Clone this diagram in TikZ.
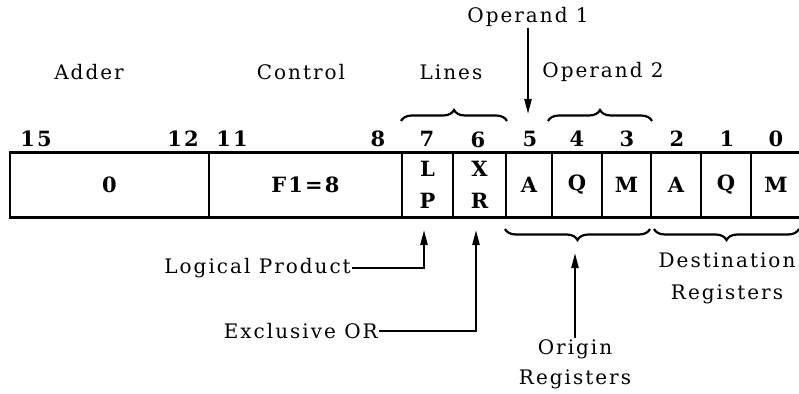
\documentclass[tikz,border=0pt]{standalone}
\usepackage{fontspec}
\setmainfont{DejaVu Serif}[LetterSpace=10]
\usetikzlibrary{decorations.pathreplacing,arrows.meta}
\begin{document}
\begin{tikzpicture}[x=1pt,y=-1pt,
  cell/.style={draw,line width=2.6pt,minimum height=65pt,inner sep=0pt,font=\fontsize{21}{22}\selectfont\bfseries},
  bit/.style={font=\fontsize{21}{22}\selectfont\bfseries,inner sep=0pt},
  lbl/.style={font=\fontsize{20}{24}\selectfont,inner sep=1pt},
  brc/.style={decorate,decoration={brace,amplitude=11pt},line width=2.2pt},
  arr/.style={line width=2.2pt,-{Triangle[length=15pt,width=7pt]}}]
\useasboundingbox (0,0) rectangle (799,393);
\clip (0,0) rectangle (799,393);
% cells
\node[cell,minimum width=199pt] (c15) at (109.5,185) {0};
\node[cell,minimum width=193pt] (c11) at (305.5,185) {F1=8};
\node[cell,minimum width=51pt,align=center] (c7) at (427.5,185) {L\\[10pt]P};
\node[cell,minimum width=53pt,align=center] (c6) at (479.5,185) {X\\[10pt]R};
\node[cell,minimum width=46pt] (c5) at (529,185) {A};
\node[cell,minimum width=50pt] (c4) at (577,185) {Q};
\node[cell,minimum width=49pt] (c3) at (626.5,185) {M};
\node[cell,minimum width=50pt] (c2) at (676,185) {A};
\node[cell,minimum width=50pt] (c1) at (726,185) {Q};
\node[cell,minimum width=50pt] (c0) at (776,185) {M};
% bit numbers
\node[bit] (b15) at (36,139) {15};
\node[bit] (b12) at (183,139) {12};
\node[bit] (b11) at (232,139) {11};
\node[bit] (b8) at (378,139) {8};
\node[bit] (b7) at (427,139) {7};
\node[bit] (b6) at (478,140) {6};
\node[bit] (b5) at (530,139) {5};
\node[bit] (b4) at (577,139) {4};
\node[bit] (b3) at (627,139) {3};
\node[bit] (b2) at (677,139) {2};
\node[bit] (b1) at (727,139) {1};
\node[bit] (b0) at (776,139) {0};
% top labels
\node[lbl] (adder) at (89,72) {Adder};
\node[lbl] (control) at (301,72) {Control};
\node[lbl] (lines) at (451,72) {Lines};
\node[lbl] (op1) at (528,17) {Operand 1};
\node[lbl] (op2) at (603,72) {Operand 2};
% braces
\draw[brc] (401,121) -- (507,121);
\draw[brc] (548,121) -- (652,121);
\draw[brc] (650,229) -- (505,229);
\draw[brc] (799,229) -- (654,229);
% operand 1 arrow
\coordinate (op1tip) at (528,114);
\draw[arr] (op1.south) -- (op1tip);
% lower labels
\node[lbl,anchor=east] (lp) at (352,268) {Logical Product};
\node[lbl,anchor=east] (xr) at (379,331) {Exclusive OR};
\coordinate (lptip) at (424,230);
\coordinate (xrtip) at (476,230);
\draw[arr] (lp.east) -| (lptip);
\draw[arr] (xr.east) -| (xrtip);
\node[lbl,align=center] (org) at (575,364) {Origin\\[6pt]Registers};
\coordinate (orgtip) at (575,253);
\draw[arr] (org.north) -- (orgtip);
\node[lbl,align=center] (dst) at (727,278) {Destination\\[8pt]Registers};
\end{tikzpicture}
\end{document}
